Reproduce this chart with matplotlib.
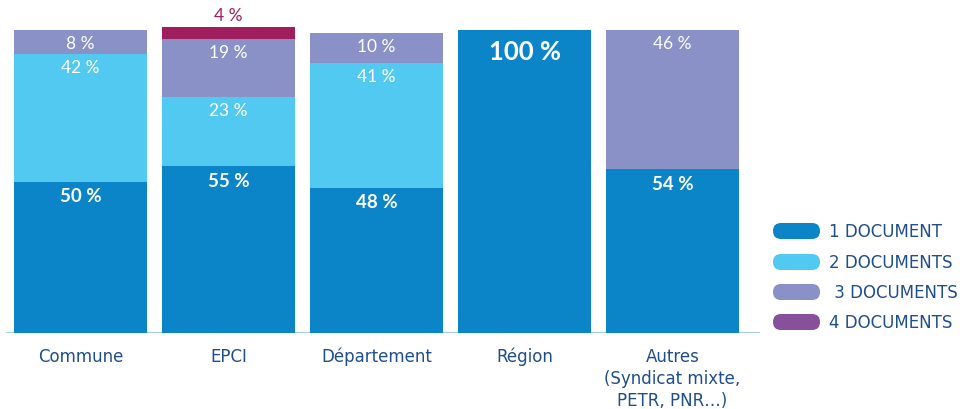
import matplotlib
matplotlib.use("Agg")
import matplotlib.pyplot as plt
from matplotlib.patches import FancyBboxPatch
import numpy as np

plt.rcParams['font.family'] = ['Lato', 'DejaVu Sans']

categories = ["Commune", "EPCI", "Département", "Région",
              "Autres\n(Syndicat mixte,\nPETR, PNR…)"]
series_names = ["1 DOCUMENT", "2 DOCUMENTS", " 3 DOCUMENTS", "4 DOCUMENTS"]
one_doc = [50, 55, 48, 100, 54]
two_docs = [42, 23, 41, 0, 0]
three_docs = [8, 19, 10, 0, 46]
four_docs = [0, 4, 0, 0, 0]

bar_colors = ["#0C85C8", "#52C9F0", "#8991C7", "#A01E5E"]
legend_colors = ["#0C85C8", "#52C9F0", "#8991C7", "#86509A"]
text_blue = "#1F4E8C"
label_font = ["DejaVu Sans"]

W, H = 968, 409
fig = plt.figure(figsize=(W / 100, H / 100), dpi=100)

# axes placed in pixel terms: baseline at y=333, 100 % reaches y=30
ax_left, ax_right = 6, 760
ax_bottom, ax_top = 333, 0
ax = fig.add_axes([ax_left / W, (H - ax_bottom) / H,
                   (ax_right - ax_left) / W, (ax_bottom - ax_top) / H])
px_per_unit = 148
first_center = 80.5
ax.set_xlim(-(first_center - ax_left) / px_per_unit,
            (ax_right - first_center) / px_per_unit)
ax.set_ylim(0, 100 * (ax_bottom - ax_top) / 303)
ax.axis("off")
ax.axhline(0, color="#A9CDE6", lw=1.6, zorder=1)

x = np.arange(len(categories))
width = 133 / 148
series = [one_doc, two_docs, three_docs, four_docs]
bottom = np.zeros(len(categories))
unit_to_px = 303 / 100
label_offset = 14 / unit_to_px

for si, vals in enumerate(series):
    vals = np.array(vals, dtype=float)
    ax.bar(x, vals, width, bottom=bottom, color=bar_colors[si],
           linewidth=0, zorder=2)
    for i, v in enumerate(vals):
        if v <= 0:
            continue
        top = bottom[i] + v
        label = f"{int(v)} %"
        if si == 3:
            ax.text(x[i], top + 1.0, label, ha="center", va="bottom",
                    color=bar_colors[3], fontsize=12.5)
        elif si == 0:
            big = v >= 100
            ax.text(x[i], top - (22 if big else 15) / unit_to_px, label,
                    ha="center", va="center", color="white",
                    fontsize=18.5 if big else 13.5, fontweight="bold")
        else:
            ax.text(x[i], top - label_offset, label, ha="center",
                    va="center", color="white", fontsize=12.5)
    bottom += vals

# category labels below the baseline, one text per line
for i, cat in enumerate(categories):
    for k, line in enumerate(cat.split("\n")):
        ax.annotate(line, xy=(x[i], 0), xytext=(0, -29 - 22 * k),
                    textcoords="offset pixels", ha="center", va="baseline",
                    color=text_blue, fontsize=12,
                    family=label_font, annotation_clip=False)

# legend with rounded colour swatches
lax = fig.add_axes([0, 0, 1, 1], facecolor="none")
lax.set_xlim(0, W)
lax.set_ylim(H, 0)
lax.axis("off")
legend_y = [231, 262, 292, 322]
for name, col, yy in zip(series_names, legend_colors, legend_y):
    pill = FancyBboxPatch((773, yy - 8), 47, 16,
                          boxstyle="round,pad=0,rounding_size=8",
                          facecolor=col, edgecolor=col, lw=0)
    lax.add_patch(pill)
    lax.text(829, yy + 6, name, ha="left", va="baseline",
             color=text_blue, fontsize=12, family=label_font)

fig.savefig("out.png", dpi=100)
